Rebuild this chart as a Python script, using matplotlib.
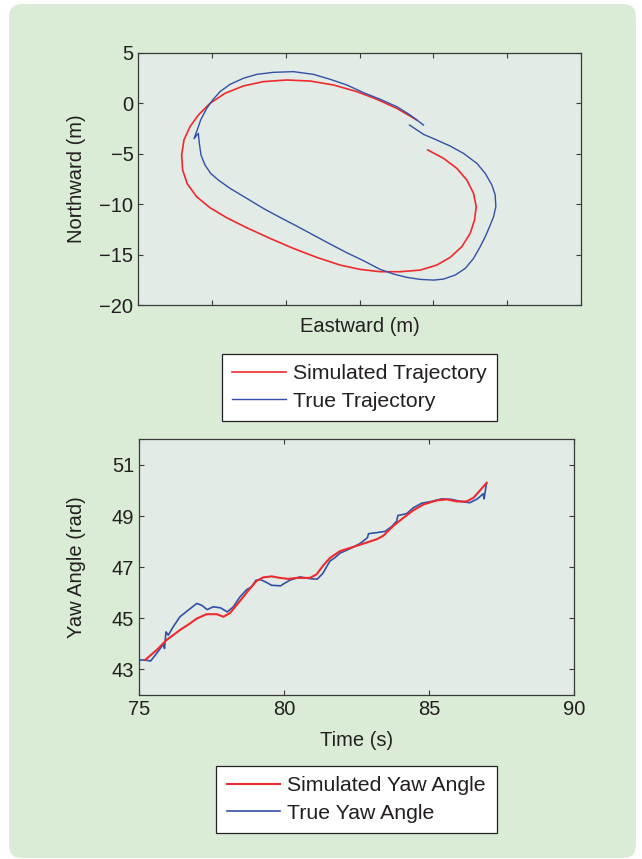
import numpy as np
import matplotlib; matplotlib.use('Agg')
import matplotlib.pyplot as plt
from matplotlib.patches import FancyBboxPatch
from matplotlib.transforms import IdentityTransform

plt.rcParams['font.family'] = ['Liberation Sans', 'DejaVu Sans']

# trajectory (m)
sim_east = [9.24, 11.37, 13.17, 14.53, 15.44, 15.80, 15.57, 14.98, 13.85, 12.27,
            10.46, 8.20, 5.49, 2.78, 0.06, -2.65, -5.81, -8.98, -12.14, -15.31,
            -18.02, -20.28, -22.09, -23.35, -23.99, -24.12, -23.81, -22.99, -21.86, -20.28,
            -18.25, -15.76, -13.05, -9.88, -6.72, -3.55, -0.39, 2.33, 5.04, 7.75]
sim_north = [-4.64, -5.47, -6.46, -7.62, -8.94, -10.26, -11.58, -12.90, -14.22, -15.28,
             -16.04, -16.54, -16.70, -16.70, -16.47, -16.04, -15.28, -14.39, -13.40, -12.34,
             -11.35, -10.36, -9.27, -8.01, -6.63, -5.14, -3.65, -2.33, -1.18, -0.02,
             0.97, 1.70, 2.13, 2.29, 2.19, 1.80, 1.14, 0.38, -0.52, -1.67]

true_east = [6.76, 8.65, 10.24, 12.27, 14.08, 15.89, 17.02, 17.92, 18.37, 18.46,
             18.15, 17.61, 17.02, 16.34, 15.44, 14.31, 12.95, 11.37, 10.01, 8.20,
             6.39, 4.59, 2.78, 0.52, -1.74, -4.00, -6.26, -8.53, -10.79, -13.05,
             -15.31, -17.57, -19.15, -20.19, -20.96, -21.50, -21.73, -21.86, -22.45, -21.95,
             -21.55, -20.73, -19.92, -18.92, -17.57, -15.76, -13.95, -11.69, -8.98, -6.26,
             -4.00, -1.74, 0.52, 2.78, 5.04, 6.85, 8.65]
true_north = [-2.17, -3.09, -3.59, -4.25, -4.98, -5.97, -6.96, -8.11, -9.10, -10.26,
              -11.25, -12.24, -13.23, -14.22, -15.38, -16.37, -17.03, -17.43, -17.53, -17.46,
              -17.26, -16.93, -16.47, -15.61, -14.82, -13.96, -13.07, -12.18, -11.32, -10.43,
              -9.43, -8.44, -7.62, -6.96, -6.13, -5.14, -3.98, -2.99, -3.52, -2.53,
              -1.67, -0.52, 0.31, 1.14, 1.86, 2.46, 2.85, 3.05, 3.12, 2.85,
              2.36, 1.80, 1.04, 0.38, -0.35, -1.18, -2.17]

# yaw angle (rad)
sim_t = [75.21, 75.61, 75.95, 76.41, 76.76, 76.99, 77.33, 77.68, 77.91, 78.14,
         78.48, 78.82, 79.05, 79.28, 79.57, 79.86, 80.15, 80.43, 80.89, 81.12,
         81.35, 81.58, 81.93, 82.38, 82.73, 83.19, 83.42, 83.76, 84.11, 84.45,
         84.80, 85.26, 85.60, 85.95, 86.29, 86.52, 86.75, 86.98]
sim_yaw = [43.37, 43.76, 44.15, 44.54, 44.80, 44.99, 45.16, 45.16, 45.06, 45.21,
           45.68, 46.16, 46.46, 46.60, 46.64, 46.58, 46.54, 46.58, 46.58, 46.72,
           47.07, 47.36, 47.63, 47.79, 47.92, 48.09, 48.23, 48.61, 48.93, 49.22,
           49.45, 49.61, 49.65, 49.57, 49.57, 49.71, 50.00, 50.30]

true_t = [75.00, 75.21, 75.40, 75.61, 75.84, 75.88, 75.93, 76.01, 76.18, 76.41,
          76.70, 76.99, 77.16, 77.35, 77.56, 77.81, 78.04, 78.25, 78.48, 78.71,
          78.88, 79.03, 79.19, 79.38, 79.57, 79.88, 80.00, 80.20, 80.55, 80.89,
          81.14, 81.33, 81.58, 81.75, 81.93, 82.27, 82.61, 82.87, 82.91, 83.19,
          83.48, 83.71, 83.88, 83.92, 84.22, 84.45, 84.74, 85.08, 85.43, 85.77,
          86.12, 86.40, 86.66, 86.86, 86.89, 86.96, 86.98]
true_yaw = [43.37, 43.37, 43.33, 43.63, 43.99, 43.82, 44.47, 44.34, 44.67, 45.06,
            45.32, 45.58, 45.51, 45.34, 45.45, 45.41, 45.25, 45.45, 45.84, 46.12,
            46.23, 46.49, 46.51, 46.41, 46.29, 46.27, 46.36, 46.49, 46.62, 46.55,
            46.53, 46.75, 47.24, 47.37, 47.55, 47.72, 47.92, 48.15, 48.31, 48.35,
            48.40, 48.59, 48.80, 49.02, 49.09, 49.32, 49.50, 49.57, 49.67, 49.65,
            49.56, 49.52, 49.67, 49.87, 49.67, 50.19, 50.28]

RED = '#ee2a2e'
BLUE = '#3350a8'
TXT = '#231f20'
FS = 14.5

fig = plt.figure(figsize=(6.42, 8.59), dpi=100)
fig.patch.set_facecolor('white')
panel = FancyBboxPatch((9, 1), 627, 854, boxstyle='round,pad=0,rounding_size=13',
                       transform=IdentityTransform(), facecolor='#dbecd6',
                       edgecolor='none', zorder=-10)
fig.patches.append(panel)

def style(ax):
    ax.set_facecolor('#e2ebe5')
    for s in ax.spines.values():
        s.set_color('#3a3a3a')
        s.set_linewidth(0.9)
    ax.tick_params(direction='in', length=3.5, width=0.8, top=True, right=True,
                   labelsize=FS, labelcolor=TXT, color='#3a3a3a')

ax1 = fig.add_axes([0.2154, 0.6449, 0.6896, 0.2938])
style(ax1)
ax1.plot(sim_east, sim_north, color=RED, lw=1.2, label='Simulated Trajectory')
ax1.plot(true_east, true_north, color=BLUE, lw=1.0, label='True Trajectory')
ax1.set_xlim(-30, 30)
ax1.set_ylim(-20, 5)
ax1.set_xticks(np.arange(-30, 31, 10))
ax1.set_xticklabels([])
ax1.set_yticks([-20, -15, -10, -5, 0, 5])
ax1.set_xlabel('Eastward (m)', fontsize=FS, color=TXT, labelpad=5)
ax1.set_ylabel('Northward (m)', fontsize=FS, color=TXT)
ax1.yaxis.set_label_coords(-0.118, 0.5)

ax2 = fig.add_axes([0.2165, 0.1909, 0.6781, 0.2977])
style(ax2)
ax2.plot(sim_t, sim_yaw, color=RED, lw=1.5, label='Simulated Yaw Angle', zorder=3)
ax2.plot(true_t, true_yaw, color=BLUE, lw=1.2, label='True Yaw Angle', zorder=2)
ax2.set_xlim(75, 90)
ax2.set_ylim(42, 52)
ax2.set_xticks([75, 80, 85, 90])
ax2.set_yticks([43, 45, 47, 49, 51])
ax2.set_xlabel('Time (s)', fontsize=FS, color=TXT, labelpad=9)
ax2.set_ylabel('Yaw Angle (rad)', fontsize=FS, color=TXT)
ax2.yaxis.set_label_coords(-0.122, 0.5)

leg_kw = dict(loc='center', fancybox=False, shadow=False, framealpha=1,
              edgecolor='#222222', facecolor='white', fontsize=15.3,
              handlelength=2.5, handletextpad=0.35, labelspacing=0.4,
              borderpad=0.5, borderaxespad=0)
h, l = ax1.get_legend_handles_labels()
lg1 = fig.legend(h, l, bbox_to_anchor=(0.56, 0.5489), **leg_kw)
h, l = ax2.get_legend_handles_labels()
lg2 = fig.legend(h, l, bbox_to_anchor=(0.5553, 0.0693), **leg_kw)
for lg in (lg1, lg2):
    lg.get_frame().set_linewidth(0.9)
    for t in lg.get_texts():
        t.set_color(TXT)

fig.savefig('out.png', dpi=100)
